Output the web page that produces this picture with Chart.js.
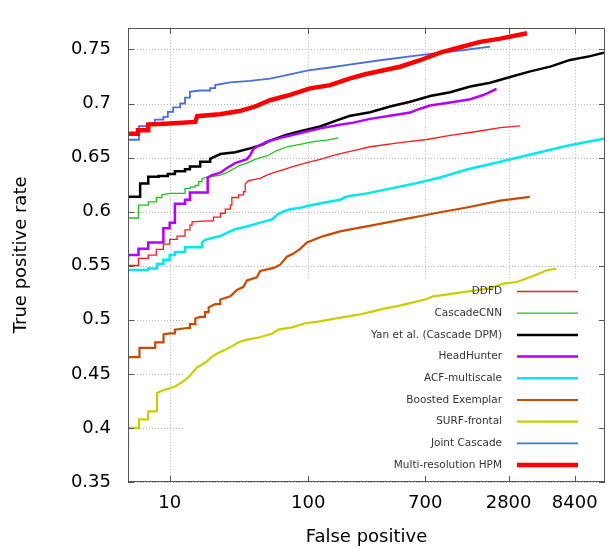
<!DOCTYPE html>
<html>
<head>
<meta charset="utf-8">
<script src="https://cdn.jsdelivr.net/npm/chart.js@4.4.0/dist/chart.umd.min.js"></script>
<style>
  body { margin: 0; background: #fff; }
  #wrap { width: 610px; height: 548px; }
</style>
</head>
<body>
<div id="wrap"><canvas id="roc"></canvas></div>
<script>
// tick labels
const xTicks = [10, 100, 700, 2800, 8400];
const yTicks = [0.35, 0.4, 0.45, 0.5, 0.55, 0.6, 0.65, 0.7, 0.75];

const methods = ['DDFD', 'CascadeCNN', 'Yan et al. (Cascade DPM)', 'HeadHunter', 'ACF-multiscale',
                 'Boosted Exemplar', 'SURF-frontal', 'Joint Cascade', 'Multi-resolution HPM'];

// false positives / true positive rate
// (the low-FP part of each curve is a staircase, so its corners are listed twice)
const ddfdFP  = [5, 5.95, 5.95, 7, 7, 8, 8, 9, 9, 10, 10, 11.3, 11.3, 12.9, 12.9, 14, 14, 14.5, 14.5, 18.6, 20.7, 20.7, 23.2, 23.2, 25.2, 25.2, 27.4, 27.4, 28.1, 28.1, 31.4, 31.4, 34.1, 34.1, 35.1, 35.1, 37.1, 45, 50.3, 56.2, 66.4, 78.3, 97.8, 122, 152, 190, 237, 280, 461, 717, 1060, 1650, 2436, 3398];
const ddfdTPR = [0.5502, 0.5502, 0.5568, 0.5568, 0.5598, 0.5598, 0.5651, 0.5651, 0.57, 0.57, 0.5744, 0.5744, 0.5774, 0.5774, 0.5832, 0.5832, 0.5876, 0.5876, 0.5906, 0.5915, 0.5915, 0.595, 0.595, 0.5985, 0.5985, 0.6023, 0.6023, 0.6061, 0.6061, 0.6131, 0.6131, 0.6155, 0.6155, 0.6184, 0.6184, 0.6257, 0.6286, 0.6307, 0.6337, 0.636, 0.6389, 0.6418, 0.6453, 0.6483, 0.6521, 0.655, 0.6579, 0.66, 0.6638, 0.6667, 0.6706, 0.6741, 0.6776, 0.6793];

const cnnFP  = [5, 5.95, 5.95, 7, 7, 8, 8, 8.8, 8.8, 10, 12.9, 12.9, 14, 14, 15.3, 15.3, 16.2, 16.2, 17.1, 17.1, 18.6, 23.2, 25.9, 28.9, 31.4, 36.1, 40.2, 45, 50.3, 59.4, 70.2, 87.5, 109, 136, 165];
const cnnTPR = [0.5941, 0.5941, 0.6061, 0.6061, 0.609, 0.609, 0.6131, 0.6131, 0.6155, 0.6169, 0.6169, 0.6213, 0.6213, 0.6227, 0.6227, 0.6242, 0.6242, 0.6278, 0.6278, 0.6307, 0.6316, 0.6337, 0.636, 0.6395, 0.6424, 0.6448, 0.6477, 0.65, 0.6515, 0.6565, 0.66, 0.6623, 0.6647, 0.6662, 0.6682];

const yanFP  = [5, 6.12, 6.12, 7, 7, 8.3, 8.3, 9.7, 9.7, 10.9, 10.9, 12.9, 12.9, 14, 14, 16.6, 16.6, 19.6, 19.6, 23.2, 29.7, 38.1, 46.6, 53.2, 68.2, 87.5, 122, 157, 198, 280, 390, 545, 760, 1060, 1480, 2060, 2874, 4010, 5590, 7790, 10870, 13900];
const yanTPR = [0.6137, 0.6137, 0.626, 0.626, 0.6322, 0.6322, 0.633, 0.633, 0.6348, 0.6348, 0.6374, 0.6374, 0.6392, 0.6392, 0.6418, 0.6418, 0.6462, 0.6462, 0.6489, 0.6533, 0.655, 0.6585, 0.662, 0.6656, 0.6708, 0.6743, 0.6787, 0.684, 0.6884, 0.6919, 0.6972, 0.7016, 0.7069, 0.7104, 0.7157, 0.7192, 0.7245, 0.7297, 0.7341, 0.7403, 0.7438, 0.7473];

const hhFP  = [5, 5, 5.95, 5.95, 7, 7, 9, 9, 10, 10, 10.9, 10.9, 12.9, 12.9, 14, 14, 18.8, 18.8, 20.2, 23.2, 25.9, 29.7, 36.1, 38.1, 40.2, 43.8, 50.3, 62.8, 78.3, 97.8, 122, 161, 212, 280, 390, 545, 643, 760, 1060, 1480, 1841, 2290];
const hhTPR = [0.5554, 0.5598, 0.5598, 0.5657, 0.5657, 0.5715, 0.5715, 0.5847, 0.5847, 0.5897, 0.5897, 0.6073, 0.6073, 0.611, 0.611, 0.6178, 0.6178, 0.6316, 0.6337, 0.636, 0.6404, 0.6448, 0.6486, 0.6521, 0.6579, 0.6609, 0.6647, 0.6682, 0.6711, 0.6741, 0.677, 0.6799, 0.6823, 0.6858, 0.6887, 0.6917, 0.6952, 0.6981, 0.701, 0.704, 0.7078, 0.7136];

const acfFP  = [5, 7, 7, 8.1, 8.1, 9, 9, 10, 10, 10.9, 10.9, 12.9, 12.9, 17.1, 17.1, 18, 23.2, 25.9, 29.7, 36.1, 45, 54.7, 61, 66.4, 74, 87.5, 98, 129, 170, 190, 265, 390, 577, 897, 1397, 2436, 4250, 7410, 13900];
const acfTPR = [0.546, 0.546, 0.5475, 0.5475, 0.5516, 0.5516, 0.5554, 0.5554, 0.5598, 0.5598, 0.5627, 0.5627, 0.5671, 0.5671, 0.5715, 0.5739, 0.5774, 0.5803, 0.5838, 0.5862, 0.5898, 0.5928, 0.5979, 0.6003, 0.6023, 0.6035, 0.6052, 0.6082, 0.611, 0.614, 0.6169, 0.6213, 0.6257, 0.6316, 0.6389, 0.6462, 0.6535, 0.6609, 0.6676];

const boostFP  = [5, 5, 6.05, 6.05, 7.86, 7.86, 9.02, 9.02, 10, 10.9, 10.9, 13.3, 14, 14, 15.3, 15.3, 16.6, 18, 18, 19.1, 19.1, 21.3, 23.2, 23.2, 27.4, 30.6, 34.1, 36.1, 42.6, 45, 56.2, 62.8, 70.2, 78.3, 87.5, 97.8, 129, 170, 225, 296, 390, 516, 681, 897, 1397, 2436, 3980];
const boostTPR = [0.4484, 0.4654, 0.4654, 0.474, 0.474, 0.4792, 0.4792, 0.4865, 0.4874, 0.4874, 0.4909, 0.4924, 0.4924, 0.4959, 0.4959, 0.5012, 0.5027, 0.5027, 0.5071, 0.5071, 0.5115, 0.5144, 0.5144, 0.5188, 0.5217, 0.5276, 0.5305, 0.5363, 0.5393, 0.5451, 0.548, 0.551, 0.5583, 0.5612, 0.5656, 0.5715, 0.5774, 0.5818, 0.5847, 0.5876, 0.5906, 0.5935, 0.5964, 0.5994, 0.6038, 0.6102, 0.6137];

const surfFP  = [5, 5, 6, 6, 7, 7, 8.1, 8.1, 8.8, 9.7, 10.9, 11.9, 12.9, 14, 14.8, 15.7, 17.1, 18.6, 20.2, 22.5, 25.2, 28.1, 31.4, 35.1, 43.8, 54.7, 61, 76.3, 95.1, 119, 148, 185, 231, 288, 360, 450, 561, 700, 801, 1397, 2060, 2571, 3215, 4250, 5290, 6190];
const surfTPR = [0.3766, 0.4001, 0.4001, 0.408, 0.408, 0.4153, 0.4153, 0.4324, 0.4344, 0.4361, 0.4382, 0.4412, 0.4441, 0.4485, 0.452, 0.4557, 0.4587, 0.4616, 0.466, 0.4695, 0.4724, 0.4754, 0.4792, 0.4812, 0.4836, 0.4871, 0.4909, 0.493, 0.4968, 0.4983, 0.5006, 0.5027, 0.5047, 0.5076, 0.5106, 0.5129, 0.5159, 0.5188, 0.5217, 0.5261, 0.5291, 0.5335, 0.5349, 0.5408, 0.5458, 0.5472];

const jointFP  = [5, 5, 6, 6, 7, 7, 7.8, 7.8, 9, 9, 9.7, 9.7, 10.6, 10.6, 11.9, 11.9, 12.9, 12.9, 14, 14, 16.6, 19.6, 19.6, 21.3, 21.3, 27.4, 38, 53, 74, 100, 144, 198, 331, 643, 897, 1252, 2060];
const jointTPR = [0.65, 0.6665, 0.6665, 0.679, 0.679, 0.6816, 0.6816, 0.6851, 0.6851, 0.6877, 0.6877, 0.6922, 0.6922, 0.6965, 0.6965, 0.7, 0.7, 0.7055, 0.7055, 0.7108, 0.712, 0.712, 0.7143, 0.7143, 0.717, 0.7196, 0.721, 0.723, 0.727, 0.7306, 0.7333, 0.7359, 0.74, 0.7447, 0.747, 0.749, 0.7526];

const hpmFP  = [5, 5.9, 5.9, 7, 7, 10, 15.3, 15.8, 23, 32, 41, 53, 74, 103, 144, 198, 258, 331, 461, 643, 897, 1252, 1746, 2436, 3800];
const hpmTPR = [0.672, 0.672, 0.6753, 0.6753, 0.6805, 0.6815, 0.683, 0.6883, 0.69, 0.693, 0.697, 0.703, 0.708, 0.714, 0.717, 0.723, 0.727, 0.73, 0.734, 0.74, 0.747, 0.752, 0.757, 0.76, 0.765];

const allFP  = [ddfdFP, cnnFP, yanFP, hhFP, acfFP, boostFP, surfFP, jointFP, hpmFP];
const allTPR = [ddfdTPR, cnnTPR, yanTPR, hhTPR, acfTPR, boostTPR, surfTPR, jointTPR, hpmTPR];

const colors = ['#ff1a1a', '#1fc21f', '#000000', '#b400ff', '#00e8f0', '#c84a00', '#cccc00', '#4670e0', '#ff0000'];
const widths = [1.3, 1.3, 2.5, 2.5, 2.5, 2.2, 2.2, 1.8, 4.5];

const FONT = 'DejaVu Sans';

const datasets = methods.map((m, i) => ({
    label: m,
    data: allFP[i].map((v, j) => ({x: v, y: allTPR[i][j]})),
    borderColor: colors[i],
    borderWidth: widths[i],
    tension: 0,
    pointRadius: 0,
    fill: false,
    order: methods.length - i
}));

function seg(ctx, x1, y1, x2, y2) {
    ctx.beginPath();
    ctx.moveTo(x1, y1);
    ctx.lineTo(x2, y2);
    ctx.stroke();
}

const frame = {
    id: 'frame',
    beforeDatasetsDraw(chart) {
        const {ctx, chartArea: a, scales: {x, y}} = chart;
        ctx.save();
        ctx.strokeStyle = '#b8b8b8';
        ctx.lineWidth = 1;
        ctx.setLineDash([1, 2]);
        xTicks.forEach(v => {
            const px = Math.round(x.getPixelForValue(v)) + 0.5;
            seg(ctx, px, a.top, px, a.bottom);
        });
        yTicks.forEach(v => {
            const py = Math.round(y.getPixelForValue(v)) + 0.5;
            seg(ctx, a.left, py, a.right, py);
        });
        ctx.setLineDash([]);
        // the key box hides the grid behind it
        ctx.fillStyle = '#fff';
        ctx.fillRect(a.left + 55, 280, a.right - 7 - (a.left + 55), a.bottom - 281);
        ctx.restore();
    },
    afterDatasetsDraw(chart) {
        const {ctx, chartArea: a, scales: {x, y}} = chart;
        ctx.save();
        ctx.strokeStyle = '#555';
        ctx.lineWidth = 1;
        ctx.strokeRect(Math.round(a.left) + 0.5, Math.round(a.top) + 0.5,
                       Math.round(a.right - a.left) - 1, Math.round(a.bottom - a.top) - 1);
        xTicks.forEach(v => {
            const px = Math.round(x.getPixelForValue(v)) + 0.5;
            seg(ctx, px, a.bottom, px, a.bottom - 6);
            seg(ctx, px, a.top, px, a.top + 6);
        });
        yTicks.forEach(v => {
            const py = Math.round(y.getPixelForValue(v)) + 0.5;
            seg(ctx, a.left, py, a.left + 6, py);
            seg(ctx, a.right, py, a.right - 6, py);
        });
        // key
        ctx.font = '10.5px "' + FONT + '"';
        ctx.fillStyle = '#333';
        ctx.textAlign = 'right';
        ctx.textBaseline = 'middle';
        methods.forEach((m, i) => {
            const ly = 291.5 + i * 21.7;
            ctx.fillText(m, 502, ly);
            ctx.strokeStyle = colors[i];
            ctx.lineWidth = widths[i];
            seg(ctx, 517, ly, 578, ly);
        });
        ctx.restore();
    }
};

new Chart(document.getElementById('roc'), {
    type: 'line',
    data: { datasets: datasets },
    options: {
        responsive: true,
        maintainAspectRatio: false,
        animation: false,
        layout: { padding: { left: 0, right: 5, top: 4, bottom: 0 } },
        plugins: { legend: { display: false }, tooltip: { enabled: false } },
        scales: {
            x: {
                type: 'logarithmic',
                min: 5,
                max: 13900,
                afterBuildTicks: s => { s.ticks = xTicks.map(v => ({value: v})); },
                afterFit: s => { s.height = 66; },
                ticks: {
                    autoSkip: false,
                    maxRotation: 0,
                    padding: 11,
                    color: '#000',
                    font: { family: FONT, size: 18 },
                    callback: v => String(v)
                },
                grid: { display: false, drawTicks: false },
                border: { display: false },
                title: { display: true, text: 'False positive', color: '#000',
                         font: { family: FONT, size: 18 }, padding: { top: 0, bottom: 0 } }
            },
            y: {
                type: 'linear',
                min: 0.35,
                max: 0.77,
                afterBuildTicks: s => { s.ticks = yTicks.map(v => ({value: v})); },
                afterFit: s => { s.width = 128; },
                ticks: {
                    padding: 17,
                    color: '#000',
                    font: { family: FONT, size: 18 },
                    callback: v => String(v)
                },
                grid: { display: false, drawTicks: false },
                border: { display: false },
                title: { display: true, text: 'True positive rate', color: '#000',
                         font: { family: FONT, size: 18 }, padding: { top: 11, bottom: 0 } }
            }
        }
    },
    plugins: [frame]
});
</script>
</body>
</html>
